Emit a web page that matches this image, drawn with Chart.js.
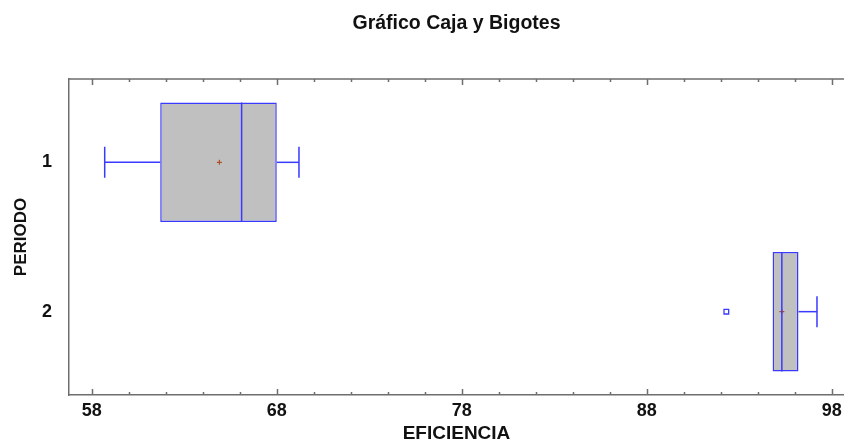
<!DOCTYPE html>
<html>
<head>
<meta charset="utf-8">
<title>Gráfico Caja y Bigotes</title>
<script src="https://cdn.jsdelivr.net/npm/chart.js@4.4.1/dist/chart.umd.min.js"></script>
<style>
  body { margin: 0; background: #ffffff; }
  canvas { display: block; }
</style>
</head>
<body>
<canvas id="boxchart" width="844" height="443"></canvas>
<script>
'use strict';

// one box per periodo
var periods = ['1', '2'];
var whiskerLow = [58.7, 94.8];
var q1 = [61.7, 94.8];
var median = [66.1, 95.3];
var q3 = [68.0, 96.2];
var whiskerHigh = [69.2, 97.2];
var means = [64.9, 95.3];

// points outside the whiskers
var outlierValues = [92.3];
var outlierPeriods = ['2'];

// x axis tick labels (minor marks every 2)
var xTickLabels = [58, 68, 78, 88, 98];

var BLUE = 'rgb(58, 58, 255)';
var GREY = '#c0c0c0';
var AXIS = '#6e6e6e';
var FONT = "'Liberation Sans', Arial, sans-serif";
var CAP_HALF = 0.104;
var BOX_HALF = 0.4;

function segment(x1, y1, x2, y2) {
  return {
    type: 'line',
    order: 0,
    data: [{x: x1, y: y1}, {x: x2, y: y2}],
    borderColor: BLUE,
    borderWidth: 1.5,
    pointRadius: 0,
    fill: false
  };
}

var datasets = [];

// boxes as floating horizontal bars, drawn underneath the lines
datasets.push({
  type: 'bar',
  indexAxis: 'y',
  order: 1,
  data: periods.map(function (p, i) {
    return {x: [q1[i], q3[i]], y: i + 1};
  }),
  backgroundColor: GREY,
  borderColor: BLUE,
  borderWidth: 1.5,
  borderSkipped: false,
  categoryPercentage: 0.8,
  barPercentage: 1
});

// whiskers, caps and medians
for (var i = 0; i < periods.length; i++) {
  var y = i + 1;
  if (whiskerLow[i] < q1[i]) {
    datasets.push(segment(whiskerLow[i], y, q1[i], y));
    datasets.push(segment(whiskerLow[i], y - CAP_HALF, whiskerLow[i], y + CAP_HALF));
  }
  if (whiskerHigh[i] > q3[i]) {
    datasets.push(segment(q3[i], y, whiskerHigh[i], y));
    datasets.push(segment(whiskerHigh[i], y - CAP_HALF, whiskerHigh[i], y + CAP_HALF));
  }
  datasets.push(segment(median[i], y - BOX_HALF, median[i], y + BOX_HALF));
}

// means
datasets.push({
  type: 'line',
  order: 0,
  showLine: false,
  data: periods.map(function (p, i) {
    return {x: means[i], y: i + 1};
  }),
  pointStyle: 'cross',
  pointRadius: 2.5,
  pointBorderColor: '#b0502a',
  pointBorderWidth: 1.2
});

// outliers
datasets.push({
  type: 'line',
  order: 0,
  showLine: false,
  data: outlierValues.map(function (v, i) {
    return {x: v, y: periods.indexOf(outlierPeriods[i]) + 1};
  }),
  pointStyle: 'rect',
  pointRadius: 3.3,
  pointBackgroundColor: '#ffffff',
  pointBorderColor: BLUE,
  pointBorderWidth: 1.3
});

// inward tick marks on top and bottom, plus the top border
var frameTicks = {
  id: 'frameTicks',
  afterDatasetsDraw: function (chart) {
    var ctx = chart.ctx;
    var area = chart.chartArea;
    var xs = chart.scales.x;
    ctx.save();
    ctx.strokeStyle = AXIS;
    ctx.lineWidth = 1.5;
    ctx.beginPath();
    ctx.moveTo(area.left, area.top);
    ctx.lineTo(area.right, area.top);
    xs.ticks.forEach(function (t) {
      var px = Math.round(xs.getPixelForValue(t.value)) + 0.5;
      var len = xTickLabels.indexOf(t.value) >= 0 ? 6 : 3;
      ctx.moveTo(px, area.bottom);
      ctx.lineTo(px, area.bottom - len);
      ctx.moveTo(px, area.top);
      ctx.lineTo(px, area.top + len);
    });
    ctx.stroke();
    ctx.restore();
  }
};

// centre the title over the plot area like the original
var titleOverPlot = {
  id: 'titleOverPlot',
  afterLayout: function (chart) {
    chart.titleBlock.left = chart.chartArea.left;
    chart.titleBlock.right = chart.chartArea.right;
  }
};

var ctx = document.getElementById('boxchart').getContext('2d');
var chart = new Chart(ctx, {
  type: 'bar',
  data: {datasets: datasets},
  plugins: [frameTicks, titleOverPlot],
  options: {
    responsive: false,
    animation: false,
    layout: {padding: 0, autoPadding: false},
    plugins: {
      legend: {display: false},
      tooltip: {enabled: false},
      title: {
        display: true,
        text: 'Gráfico Caja y Bigotes',
        color: '#111111',
        font: {family: FONT, size: 19.5, weight: 'bold'},
        padding: {top: 12, bottom: 43.6}
      }
    },
    scales: {
      x: {
        type: 'linear',
        offset: false,
        min: 56.77,
        max: 98.66,
        afterBuildTicks: function (scale) {
          var ticks = [];
          for (var v = 58; v <= 98; v += 2) {
            ticks.push({value: v});
          }
          scale.ticks = ticks;
        },
        afterFit: function (scale) {
          scale.height = 48;
          scale.paddingLeft = 0;
          scale.paddingRight = 0;
        },
        ticks: {
          autoSkip: false,
          maxRotation: 0,
          padding: 5,
          color: '#111111',
          font: {family: FONT, size: 18, weight: 'bold'},
          callback: function (value) {
            return xTickLabels.indexOf(value) >= 0 ? String(value) : '';
          }
        },
        grid: {display: false, drawTicks: false},
        border: {display: true, color: AXIS, width: 1.5},
        title: {
          display: true,
          text: 'EFICIENCIA',
          color: '#111111',
          font: {family: FONT, size: 19, weight: 'bold', lineHeight: 1},
          padding: 0
        }
      },
      y: {
        type: 'linear',
        offset: false,
        reverse: true,
        min: 0.442,
        max: 2.558,
        afterBuildTicks: function (scale) {
          scale.ticks = periods.map(function (p, i) {
            return {value: i + 1};
          });
        },
        afterFit: function (scale) {
          scale.width = 69;
        },
        ticks: {
          padding: 17,
          color: '#111111',
          font: {family: FONT, size: 18, weight: 'bold'},
          callback: function (value) {
            return periods[value - 1];
          }
        },
        grid: {display: false, drawTicks: false},
        border: {display: true, color: AXIS, width: 1.5},
        title: {
          display: true,
          text: 'PERIODO',
          color: '#111111',
          font: {family: FONT, size: 17, weight: 'bold'},
          padding: 11
        }
      }
    }
  }
});
</script>
</body>
</html>
